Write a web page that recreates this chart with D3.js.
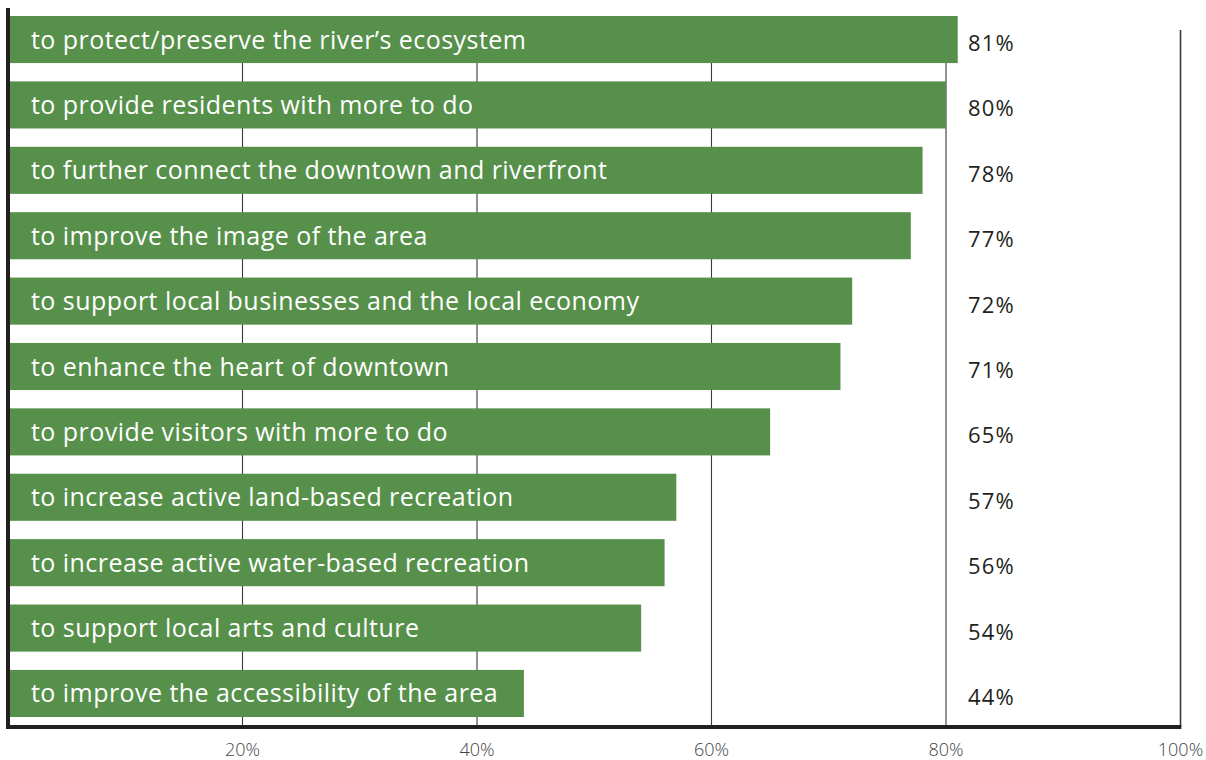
<!DOCTYPE html>
<html>
<head>
<meta charset="utf-8">
<script src="https://cdn.jsdelivr.net/npm/d3@7"></script>
<style>
  body { margin: 0; background: #fff; }
  svg { display: block; }
</style>
</head>
<body>
<script>
// data
var categories = [
  "to protect/preserve the river\u2019s ecosystem",
  "to provide residents with more to do",
  "to further connect the downtown and riverfront",
  "to improve the image of the area",
  "to support local businesses and the local economy",
  "to enhance the heart of downtown",
  "to provide visitors with more to do",
  "to increase active land-based recreation",
  "to increase active water-based recreation",
  "to support local arts and culture",
  "to improve the accessibility of the area"
];
var values = [81, 80, 78, 77, 72, 71, 65, 57, 56, 54, 44];
var tickValues = [20, 40, 60, 80, 100];

var w = 1206, h = 760;
var barColor = "#56904a";
var ink = "#231f20";

var svg = d3.select("body").append("svg")
  .attr("width", w)
  .attr("height", h);

var x = d3.scaleLinear().domain([0, 100]).range([8, 1180.5]);
var y = d3.scaleBand().domain(categories).range([16, 717]).paddingInner(0.28).paddingOuter(0);

// GRIDLINES
svg.append("g")
  .selectAll("line")
  .data(tickValues)
  .enter().append("line")
  .attr("x1", function(d) { return x(d); })
  .attr("x2", function(d) { return x(d); })
  .attr("y1", 30)
  .attr("y2", 727)
  .attr("stroke", "#3a3a3a")
  .attr("stroke-width", function(d) { return d == 100 ? 1.6 : 1.1; });

// BARS
var rows = svg.append("g").selectAll("g")
  .data(categories)
  .enter().append("g");

rows.append("rect")
  .attr("x", x(0))
  .attr("y", function(d) { return y(d); })
  .attr("height", y.bandwidth())
  .attr("width", function(d, i) { return x(values[i]) - x(0); })
  .attr("fill", barColor);

rows.append("text")
  .attr("x", 31)
  .attr("y", function(d) { return y(d) + y.bandwidth() / 2 + 9; })
  .attr("fill", "#fff")
  .style("font-family", "'Open Sans', sans-serif")
  .style("font-size", "25px")
  .style("letter-spacing", "0.45px")
  .text(function(d) { return d; });

rows.append("text")
  .attr("x", 968)
  .attr("y", function(d) { return y(d) + y.bandwidth() / 2 + 11.5; })
  .attr("fill", ink)
  .style("font-family", "'Open Sans', sans-serif")
  .style("font-size", "22px")
  .style("letter-spacing", "1.2px")
  .text(function(d, i) { return values[i] + "%"; });

// AXES (thick frame lines)
svg.append("line")
  .attr("x1", x(0)).attr("x2", x(0))
  .attr("y1", 8).attr("y2", 729)
  .attr("stroke", ink)
  .attr("stroke-width", 4);

svg.append("line")
  .attr("x1", x(0) - 2).attr("x2", x(100) + 0.8)
  .attr("y1", 727).attr("y2", 727)
  .attr("stroke", ink)
  .attr("stroke-width", 4);

// TICK LABELS
svg.append("g")
  .selectAll("text")
  .data(tickValues)
  .enter().append("text")
  .attr("x", function(d) { return x(d); })
  .attr("y", 756)
  .attr("text-anchor", "middle")
  .attr("fill", "#444")
  .style("font-family", "'Open Sans', sans-serif")
  .style("font-weight", 300)
  .style("font-size", "18px")
  .text(function(d) { return d + "%"; });
</script>
</body>
</html>
